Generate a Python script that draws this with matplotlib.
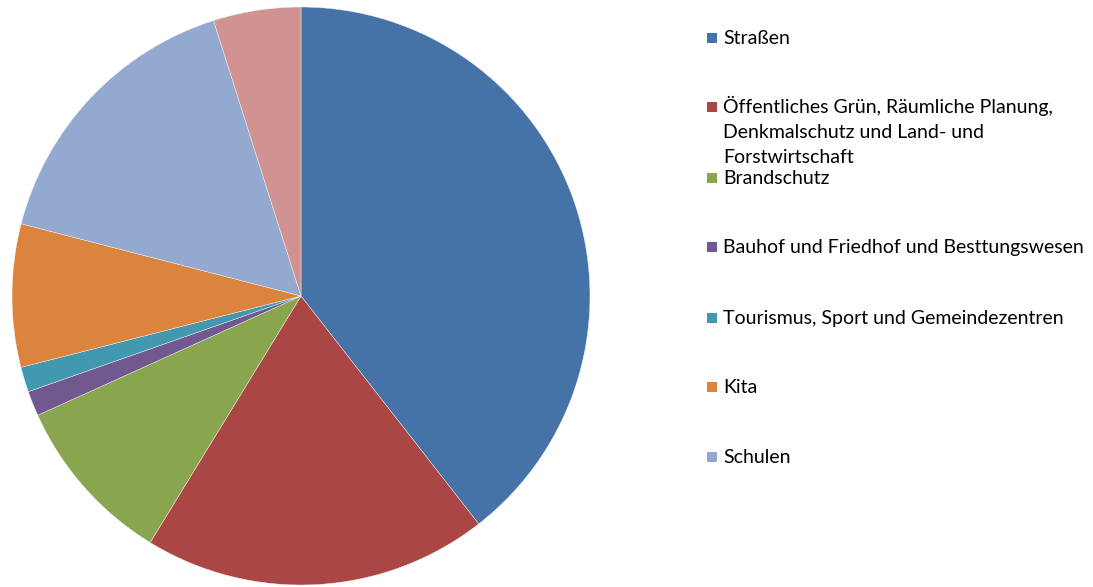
import matplotlib
matplotlib.use("Agg")
import matplotlib.pyplot as plt
from matplotlib.patches import Rectangle

categories = [
    "Straßen",
    "Öffentliches Grün, Räumliche Planung,\nDenkmalschutz und Land- und\nForstwirtschaft",
    "Brandschutz",
    "Bauhof und Friedhof und Besttungswesen",
    "Tourismus, Sport und Gemeindezentren",
    "Kita",
    "Schulen",
    "Sonstiges",
]
values = [39.5, 19.3, 9.5, 1.4, 1.4, 8.0, 16.1, 4.9]
colors = ["#4572A7", "#AA4643", "#89A54E", "#71588F", "#4198AF", "#DB843D", "#93A9CF", "#D19392"]
legend_count = 7  # last category is cut off in the reference legend

W, H = 1093, 587
fig = plt.figure(figsize=(W / 100, H / 100), dpi=100)
cx, cy, r = 301, 296, 289
ax = fig.add_axes([(cx - r) / W, (H - cy - r) / H, 2 * r / W, 2 * r / H])
ax.pie(values, colors=colors, startangle=90, counterclock=False, radius=1,
       wedgeprops=dict(linewidth=0.3, edgecolor="#f4f4f4"))
ax.set_xlim(-1, 1)
ax.set_ylim(-1, 1)
ax.set_aspect("equal")
ax.axis("off")

font = "Lato"
fs = 14
ys = [38, 107, 178, 247, 318, 387, 457]
for i in range(legend_count):
    y = ys[i]
    fig.patches.append(Rectangle(((707) / W, 1 - (y + 5) / H), 10 / W, 10 / H,
                                 transform=fig.transFigure, facecolor=colors[i],
                                 edgecolor="none"))
    lines = categories[i].split("\n")
    for j, line in enumerate(lines):
        fig.text(723 / W, 1 - (y + 6 + 25 * j) / H, line, fontsize=fs, family=font,
                 va="baseline", ha="left", color="black")

fig.savefig("out.png", dpi=100)
